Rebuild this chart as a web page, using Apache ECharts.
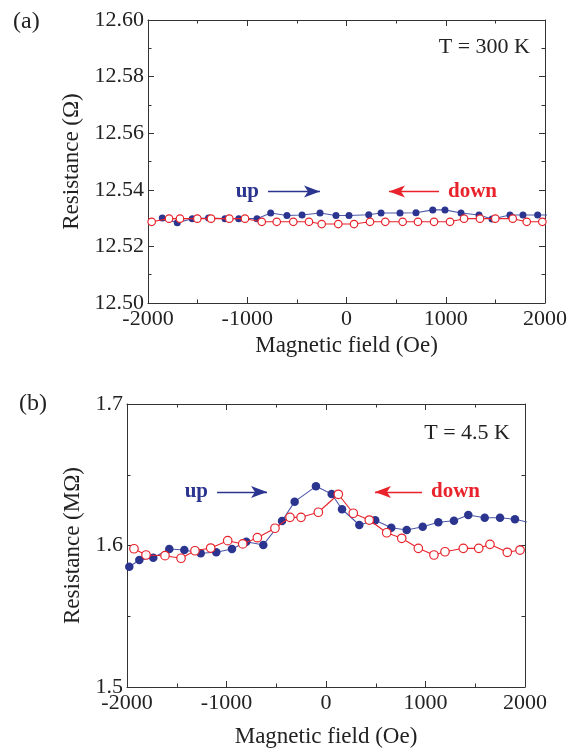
<!DOCTYPE html>
<html>
<head>
<meta charset="utf-8">
<script src="https://cdn.jsdelivr.net/npm/echarts@6/dist/echarts.min.js"></script>
<style>
  html, body { margin: 0; padding: 0; background: #ffffff; }
  #chart { width: 576px; height: 751px; }
</style>
</head>
<body>
<div id="chart"></div>
<script>
// Field sweep window and ticks (Oe)
const fieldMin = -2000;
const fieldMax = 2000;
const fieldStep = 1000;

// (a) T = 300 K, resistance in ohm
const resAMin = 12.50;
const resAMax = 12.60;
const resAStep = 0.02;
const upFieldA = [-1856, -1705, -1554, -1390, -1224, -1086, -902, -764, -600, -448, -267, -106, 25, 224, 348, 539, 700, 869, 992, 1154, 1335, 1466, 1647, 1778, 1926, 2070];
const upResA   = [12.5300, 12.5284, 12.5298, 12.5300, 12.5298, 12.5298, 12.5298, 12.5318, 12.5309, 12.5311, 12.5318, 12.5309, 12.5309, 12.5312, 12.5318, 12.5318, 12.5319, 12.5329, 12.5329, 12.5318, 12.5311, 12.5297, 12.5311, 12.5311, 12.5311, 12.5311];
const downFieldA = [-1963, -1788, -1678, -1503, -1365, -1181, -1023, -854, -703, -536, -378, -250, -83, 76, 237, 391, 566, 720, 882, 1043, 1184, 1345, 1499, 1675, 1816, 1973];
const downResA   = [12.5287, 12.5298, 12.5298, 12.5298, 12.5298, 12.5298, 12.5298, 12.5287, 12.5287, 12.5287, 12.5287, 12.5279, 12.5279, 12.5279, 12.5287, 12.5287, 12.5287, 12.5287, 12.5287, 12.5287, 12.5298, 12.5298, 12.5298, 12.5298, 12.5287, 12.5287];

// (b) T = 4.5 K, resistance in megohm
const resBMin = 1.5;
const resBMax = 1.7;
const resBStep = 0.1;
const upFieldB = [-1977, -1876, -1736, -1575, -1424, -1259, -1103, -945, -801, -630, -442, -315, -101, 57, 161, 335, 495, 656, 811, 972, 1129, 1286, 1430, 1595, 1749, 1899, 2060];
const upResB   = [1.5850, 1.5898, 1.5914, 1.5975, 1.5968, 1.5945, 1.5952, 1.5975, 1.6027, 1.6004, 1.6173, 1.6310, 1.6418, 1.6364, 1.6256, 1.6145, 1.6178, 1.6126, 1.6110, 1.6133, 1.6164, 1.6175, 1.6216, 1.6196, 1.6196, 1.6185, 1.6160];
const downFieldB = [-1930, -1809, -1618, -1457, -1317, -1159, -988, -837, -690, -513, -362, -251, -77, 124, 274, 435, 610, 761, 928, 1085, 1196, 1380, 1535, 1648, 1822, 1950];
const downResB   = [1.5977, 1.5933, 1.5928, 1.5910, 1.5963, 1.5982, 1.6034, 1.6011, 1.6055, 1.6122, 1.6199, 1.6199, 1.6235, 1.6362, 1.6228, 1.6180, 1.6090, 1.6051, 1.5980, 1.5933, 1.5956, 1.5980, 1.5980, 1.6008, 1.5952, 1.5968];

// Sweep-direction arrows: [fromField, toField, resistance]
const upArrowA = [-791, -267, 12.5394];
const downArrowA = [932, 428, 12.5394];
const upArrowB = [-1095, -593, 1.6378];
const downArrowB = [965, 492, 1.6378];

const BLUE = '#2b3590';
const BLUE_LINE = '#4d59a8';
const RED = '#e8232b';
const INK = '#333333';
const TEXT = '#222222';
const SERIF = '"Liberation Serif", "DejaVu Serif", serif';

const zip = (xs, ys) => xs.map((x, i) => [x, ys[i]]);

function frameAxis(kind, gridIndex, position, showLabels, extra) {
  return Object.assign({
    type: 'value',
    gridIndex,
    position,
    axisLine: { show: true, onZero: false, lineStyle: { color: INK, width: 1 } },
    axisTick: { show: true, inside: true, length: 6, lineStyle: { color: INK, width: 1 } },
    minorTick: { show: true, splitNumber: 2, length: 3.5, lineStyle: { color: INK, width: 1 } },
    splitLine: { show: false },
    minorSplitLine: { show: false },
    axisLabel: {
      show: showLabels,
      color: TEXT,
      fontFamily: SERIF,
      fontSize: 22,
      margin: kind === 'x' ? 5 : 4
    }
  }, extra);
}

function xAxes(gridIndex, nameGap) {
  const common = { min: fieldMin, max: fieldMax, interval: fieldStep };
  const main = frameAxis('x', gridIndex, 'bottom', true, Object.assign({}, common, {
    name: 'Magnetic field (Oe)',
    nameLocation: 'middle',
    nameGap,
    nameTextStyle: { fontFamily: SERIF, fontSize: 23, color: TEXT }
  }));
  main.axisLabel.formatter = v => String(v);
  return [main, frameAxis('x', gridIndex, 'top', false, common)];
}

function yAxes(gridIndex, min, max, interval, digits, name, nameGap) {
  const common = { min, max, interval };
  const main = frameAxis('y', gridIndex, 'left', true, Object.assign({}, common, {
    name,
    nameLocation: 'middle',
    nameGap,
    nameTextStyle: { fontFamily: SERIF, fontSize: 23, color: TEXT }
  }));
  main.axisLabel.formatter = v => v.toFixed(digits);
  return [main, frameAxis('y', gridIndex, 'right', false, common)];
}

function arrow(spec, text, color) {
  return {
    silent: true,
    animation: false,
    symbol: ['none', 'arrow'],
    symbolSize: 12,
    lineStyle: { color, width: 1.3, type: 'solid' },
    label: {
      show: true,
      position: 'start',
      formatter: text,
      color,
      fontFamily: SERIF,
      fontWeight: 'bold',
      fontSize: 21,
      distance: 9
    },
    emphasis: { disabled: true },
    data: [[
      { coord: [spec[0], spec[2]], symbol: 'none' },
      { coord: [spec[1], spec[2]], symbol: 'arrow', symbolSize: [9, 16] }
    ]]
  };
}

function upSeries(xIdx, yIdx, data, size, arrowSpec) {
  return {
    type: 'line',
    xAxisIndex: xIdx,
    yAxisIndex: yIdx,
    data,
    clip: true,
    symbol: 'circle',
    symbolSize: size,
    itemStyle: { color: BLUE, borderColor: BLUE, borderWidth: 0 },
    lineStyle: { color: BLUE_LINE, width: 1.1 },
    z: 2,
    markLine: arrow(arrowSpec, 'up', BLUE)
  };
}

function downSeries(xIdx, yIdx, data, size, arrowSpec) {
  return {
    type: 'line',
    xAxisIndex: xIdx,
    yAxisIndex: yIdx,
    data,
    clip: true,
    symbol: 'circle',
    symbolSize: size,
    itemStyle: { color: '#ffffff', borderColor: RED, borderWidth: 1.2 },
    lineStyle: { color: RED, width: 1.1 },
    z: 3,
    markLine: arrow(arrowSpec, 'down', RED)
  };
}

const chart = echarts.init(document.getElementById('chart'), null, { renderer: 'canvas' });

chart.setOption({
  animation: false,
  backgroundColor: '#ffffff',
  grid: [
    { left: 148, top: 20, width: 397, height: 283 },
    { left: 127, top: 404, width: 398, height: 283 }
  ],
  xAxis: [...xAxes(0, 31), ...xAxes(1, 38)],
  yAxis: [
    ...yAxes(0, resAMin, resAMax, resAStep, 2, 'Resistance (\u03A9)', 60),
    ...yAxes(1, resBMin, resBMax, resBStep, 1, 'Resistance (M\u03A9)', 37)
  ],
  series: [
    upSeries(0, 0, zip(upFieldA, upResA), 7, upArrowA),
    downSeries(0, 0, zip(downFieldA, downResA), 7.5, downArrowA),
    upSeries(2, 2, zip(upFieldB, upResB), 8.5, upArrowB),
    downSeries(2, 2, zip(downFieldB, downResB), 8.5, downArrowB)
  ],
  graphic: [
    { type: 'text', left: 13, top: 10, style: { text: '(a)', fontFamily: SERIF, fontSize: 24, fill: TEXT } },
    { type: 'text', left: 19, top: 392, style: { text: '(b)', fontFamily: SERIF, fontSize: 24, fill: TEXT } },
    { type: 'text', right: 46, top: 36, style: { text: 'T = 300 K', fontFamily: SERIF, fontSize: 22, fill: TEXT } },
    { type: 'text', right: 66, top: 422, style: { text: 'T = 4.5 K', fontFamily: SERIF, fontSize: 22, fill: TEXT } }
  ]
});
</script>
</body>
</html>
